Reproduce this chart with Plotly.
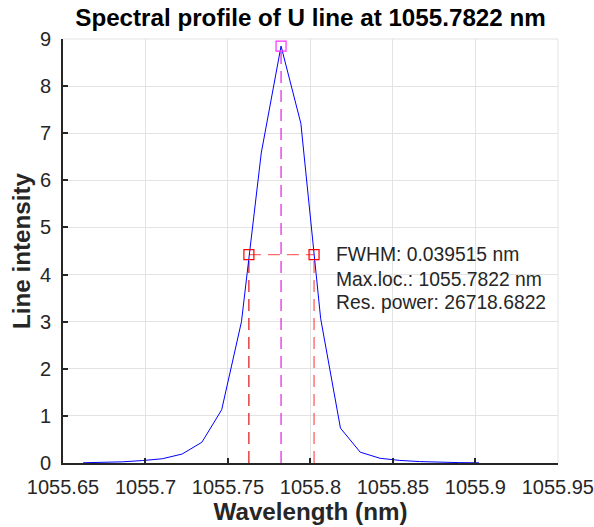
import plotly.graph_objects as go

# ---- data ----
wavelength = [1055.6622, 1055.6742, 1055.6862, 1055.6982, 1055.7102, 1055.7222,
              1055.7342, 1055.7462, 1055.7582, 1055.7702, 1055.7822, 1055.7942,
              1055.8062, 1055.8182, 1055.8302, 1055.8422, 1055.8542, 1055.8662,
              1055.8782, 1055.8902, 1055.9022]
intensity = [0.005, 0.012, 0.025, 0.052, 0.09, 0.19,
             0.44, 1.13, 3.00, 6.58, 8.85, 7.21,
             3.07, 0.74, 0.23, 0.10, 0.055, 0.03,
             0.015, 0.008, 0.004]

peak_loc = 1055.7822
peak_val = 8.85
half_val = 4.425
fwhm_left = 1055.7627
fwhm_right = 1055.8022

info_lines = ["FWHM: 0.039515 nm", "Max.loc.: 1055.7822 nm", "Res. power: 26718.6822"]
info_y = [4.42, 3.90, 3.40]

x_ticks = [1055.65, 1055.7, 1055.75, 1055.8, 1055.85, 1055.9, 1055.95]
x_ticklabels = ["1055.65", "1055.7", "1055.75", "1055.8", "1055.85", "1055.9", "1055.95"]
y_ticks = [0, 1, 2, 3, 4, 5, 6, 7, 8, 9]

FONT = "Liberation Sans, Arial, Helvetica, sans-serif"
TXT = "#262626"
DASH = "12px,7px"

fig = go.Figure()

# magenta vertical at peak
fig.add_trace(go.Scatter(x=[peak_loc, peak_loc], y=[0, peak_val], mode="lines",
                         line=dict(color="#e020e0", width=1.2, dash=DASH), hoverinfo="skip"))
# red verticals at FWHM
fig.add_trace(go.Scatter(x=[fwhm_left, fwhm_left], y=[0, half_val], mode="lines",
                         line=dict(color="#dd1111", width=1.2, dash=DASH), hoverinfo="skip"))
fig.add_trace(go.Scatter(x=[fwhm_right, fwhm_right], y=[0, half_val], mode="lines",
                         line=dict(color="#ff5050", width=1.2, dash=DASH), hoverinfo="skip"))
# horizontal at half max
fig.add_trace(go.Scatter(x=[fwhm_left, fwhm_right], y=[half_val, half_val], mode="lines",
                         line=dict(color="#ff6b6b", width=1.2, dash=DASH), hoverinfo="skip"))

# spectral profile
fig.add_trace(go.Scatter(x=wavelength, y=intensity, mode="lines",
                         line=dict(color="#0000ff", width=1)))

# markers
fig.add_trace(go.Scatter(x=[peak_loc], y=[peak_val], mode="markers",
                         marker=dict(symbol="square-open", size=10, color="#ff30ff",
                                     line=dict(width=1.2, color="#ff30ff"))))
fig.add_trace(go.Scatter(x=[fwhm_left], y=[half_val], mode="markers",
                         marker=dict(symbol="square-open", size=10, color="#ff0000",
                                     line=dict(width=1.2, color="#ff0000"))))
fig.add_trace(go.Scatter(x=[fwhm_right], y=[half_val], mode="markers",
                         marker=dict(symbol="square-open", size=10, color="#ff0000",
                                     line=dict(width=1.2, color="#ff0000"))))

for t, yv in zip(info_lines, info_y):
    fig.add_annotation(x=1055.8142, y=yv, xref="x", yref="y", text=t, showarrow=False,
                       xanchor="left", yanchor="middle",
                       font=dict(family=FONT, size=19.3, color=TXT))

# light box edges on top and right (as in the reference)
fig.add_shape(type="line", xref="paper", yref="paper", x0=1, x1=1, y0=0, y1=1,
              line=dict(color="#e3e3e3", width=1), layer="below")
fig.add_shape(type="line", xref="paper", yref="paper", x0=0, x1=1, y0=1, y1=1,
              line=dict(color="#e3e3e3", width=1), layer="below")

fig.update_layout(
    width=594, height=527,
    margin=dict(l=63, r=36, t=39, b=64, autoexpand=False),
    paper_bgcolor="white", plot_bgcolor="white",
    showlegend=False,
    title=dict(text="<b>Spectral profile of U line at 1055.7822 nm</b>",
               x=0.5, xref="paper", xanchor="center",
               y=1 - 18 / 527, yref="container", yanchor="middle",
               font=dict(family=FONT, size=24.2, color="black")),
)

fig.update_xaxes(
    range=[1055.65, 1055.9501], tickmode="array", tickvals=x_ticks, ticktext=x_ticklabels,
    showgrid=True, gridcolor="#e3e3e3", gridwidth=1,
    showline=True, linecolor=TXT, linewidth=2, mirror=False,
    ticks="inside", ticklen=5, tickwidth=2, tickcolor=TXT,
    tickfont=dict(family=FONT, size=20, color=TXT), ticklabelstandoff=5,
    ticklabeloverflow="allow",
    title=dict(text="<b>Wavelength (nm)</b>", standoff=6,
               font=dict(family=FONT, size=24.2, color=TXT)),
    zeroline=False, automargin=False,
)
fig.update_yaxes(
    range=[0, 9.0000001], tickmode="array", tickvals=y_ticks,
    showgrid=True, gridcolor="#e3e3e3", gridwidth=1,
    showline=True, linecolor=TXT, linewidth=2, mirror=False,
    ticks="inside", ticklen=5, tickwidth=2, tickcolor=TXT,
    tickfont=dict(family=FONT, size=20, color=TXT), ticklabelstandoff=6,
    ticklabeloverflow="allow",
    title=dict(text="<b>Line intensity</b>", standoff=2,
               font=dict(family=FONT, size=24.2, color=TXT)),
    zeroline=False, automargin=False,
)

fig.write_html("out.html")
